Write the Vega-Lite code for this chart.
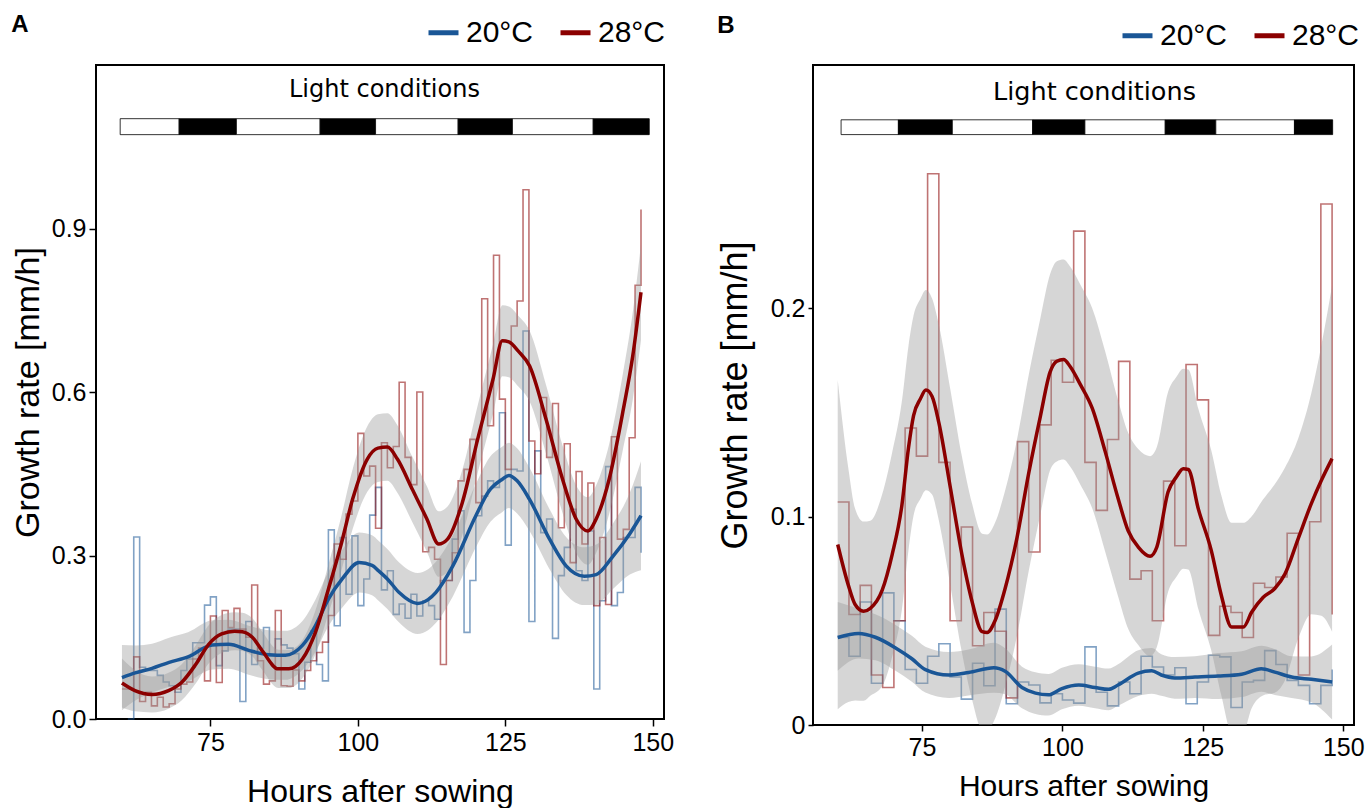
{
  "$schema": "https://vega.github.io/schema/vega-lite/v6.json",
  "background": "white",
  "padding": {"left": 10, "top": 12, "right": 0, "bottom": 0},
  "config": {
    "font": "Liberation Sans",
    "view": {"stroke": "black", "strokeWidth": 2},
    "axis": {"grid": false, "domain": false, "tickColor": "black", "tickWidth": 1.5, "labelColor": "black", "titleColor": "black", "labelFont": "Liberation Sans", "titleFont": "Liberation Sans", "titleFontWeight": "normal", "labelFontSize": 25},
    "title": {"font": "Liberation Sans", "fontWeight": "bold", "fontSize": 24, "anchor": "start", "color": "black", "offset": 0}
  },
  "datasets": {
    "a_light": [
      {"h": 59.7, "h2": 69.7, "p": "light"}, {"h": 69.7, "h2": 79.4, "p": "dark"},
      {"h": 79.4, "h2": 93.6, "p": "light"}, {"h": 93.6, "h2": 103.0, "p": "dark"},
      {"h": 103.0, "h2": 117.0, "p": "light"}, {"h": 117.0, "h2": 126.2, "p": "dark"},
      {"h": 126.2, "h2": 139.9, "p": "light"}, {"h": 139.9, "h2": 149.4, "p": "dark"}
    ],
    "b_light": [
      {"h": 60.6, "h2": 70.8, "p": "light"}, {"h": 70.8, "h2": 80.4, "p": "dark"},
      {"h": 80.4, "h2": 94.7, "p": "light"}, {"h": 94.7, "h2": 104.0, "p": "dark"},
      {"h": 104.0, "h2": 118.3, "p": "light"}, {"h": 118.3, "h2": 127.3, "p": "dark"},
      {"h": 127.3, "h2": 141.3, "p": "light"}, {"h": 141.3, "h2": 148.1, "p": "dark"}
    ],
    "label": [{"label": "Light conditions"}],
    "a_steps": [
      {"h": 61, "v": 0.0, "s": "20°C"}, {"h": 62, "v": 0.334, "s": "20°C"}, {"h": 63, "v": 0.095, "s": "20°C"}, {"h": 64, "v": 0.089, "s": "20°C"}, {"h": 65, "v": 0.089, "s": "20°C"}, {"h": 66, "v": 0.08, "s": "20°C"}, {"h": 67, "v": 0.068, "s": "20°C"}, {"h": 68, "v": 0.061, "s": "20°C"}, {"h": 69, "v": 0.049, "s": "20°C"}, {"h": 70, "v": 0.089, "s": "20°C"},
      {"h": 71, "v": 0.11, "s": "20°C"}, {"h": 72, "v": 0.14, "s": "20°C"}, {"h": 73, "v": 0.14, "s": "20°C"}, {"h": 74, "v": 0.209, "s": "20°C"}, {"h": 75, "v": 0.224, "s": "20°C"}, {"h": 76, "v": 0.098, "s": "20°C"}, {"h": 77, "v": 0.125, "s": "20°C"}, {"h": 78, "v": 0.165, "s": "20°C"}, {"h": 79, "v": 0.165, "s": "20°C"}, {"h": 80, "v": 0.032, "s": "20°C"},
      {"h": 81, "v": 0.179, "s": "20°C"}, {"h": 82, "v": 0.10, "s": "20°C"}, {"h": 83, "v": 0.13, "s": "20°C"}, {"h": 84, "v": 0.168, "s": "20°C"}, {"h": 85, "v": 0.116, "s": "20°C"}, {"h": 86, "v": 0.147, "s": "20°C"}, {"h": 87, "v": 0.136, "s": "20°C"}, {"h": 88, "v": 0.13, "s": "20°C"}, {"h": 89, "v": 0.12, "s": "20°C"}, {"h": 90, "v": 0.055, "s": "20°C"},
      {"h": 91, "v": 0.104, "s": "20°C"}, {"h": 92, "v": 0.162, "s": "20°C"}, {"h": 93, "v": 0.10, "s": "20°C"}, {"h": 94, "v": 0.07, "s": "20°C"}, {"h": 95, "v": 0.347, "s": "20°C"}, {"h": 96, "v": 0.171, "s": "20°C"}, {"h": 97, "v": 0.333, "s": "20°C"}, {"h": 98, "v": 0.229, "s": "20°C"}, {"h": 99, "v": 0.336, "s": "20°C"}, {"h": 100, "v": 0.208, "s": "20°C"},
      {"h": 101, "v": 0.257, "s": "20°C"}, {"h": 102, "v": 0.374, "s": "20°C"}, {"h": 103, "v": 0.425, "s": "20°C"}, {"h": 104, "v": 0.237, "s": "20°C"}, {"h": 105, "v": 0.272, "s": "20°C"}, {"h": 106, "v": 0.192, "s": "20°C"}, {"h": 107, "v": 0.211, "s": "20°C"}, {"h": 108, "v": 0.185, "s": "20°C"}, {"h": 109, "v": 0.229, "s": "20°C"}, {"h": 110, "v": 0.189, "s": "20°C"},
      {"h": 111, "v": 0.217, "s": "20°C"}, {"h": 112, "v": 0.208, "s": "20°C"}, {"h": 113, "v": 0.183, "s": "20°C"}, {"h": 114, "v": 0.254, "s": "20°C"}, {"h": 115, "v": 0.254, "s": "20°C"}, {"h": 116, "v": 0.33, "s": "20°C"}, {"h": 117, "v": 0.382, "s": "20°C"}, {"h": 118, "v": 0.159, "s": "20°C"}, {"h": 119, "v": 0.254, "s": "20°C"}, {"h": 120, "v": 0.373, "s": "20°C"},
      {"h": 121, "v": 0.409, "s": "20°C"}, {"h": 122, "v": 0.437, "s": "20°C"}, {"h": 123, "v": 0.425, "s": "20°C"}, {"h": 124, "v": 0.562, "s": "20°C"}, {"h": 125, "v": 0.319, "s": "20°C"}, {"h": 126, "v": 0.458, "s": "20°C"}, {"h": 127, "v": 0.455, "s": "20°C"}, {"h": 128, "v": 0.712, "s": "20°C"}, {"h": 129, "v": 0.179, "s": "20°C"}, {"h": 130, "v": 0.492, "s": "20°C"},
      {"h": 131, "v": 0.342, "s": "20°C"}, {"h": 132, "v": 0.367, "s": "20°C"}, {"h": 133, "v": 0.148, "s": "20°C"}, {"h": 134, "v": 0.263, "s": "20°C"}, {"h": 135, "v": 0.315, "s": "20°C"}, {"h": 136, "v": 0.385, "s": "20°C"}, {"h": 137, "v": 0.272, "s": "20°C"}, {"h": 138, "v": 0.254, "s": "20°C"}, {"h": 139, "v": 0.345, "s": "20°C"}, {"h": 140, "v": 0.055, "s": "20°C"},
      {"h": 141, "v": 0.217, "s": "20°C"}, {"h": 142, "v": 0.463, "s": "20°C"}, {"h": 143, "v": 0.208, "s": "20°C"}, {"h": 144, "v": 0.232, "s": "20°C"}, {"h": 145, "v": 0.333, "s": "20°C"}, {"h": 146, "v": 0.333, "s": "20°C"}, {"h": 147, "v": 0.425, "s": "20°C"}, {"h": 148, "v": 0.305, "s": "20°C"},
      {"h": 60, "v": 0.055, "s": "28°C"}, {"h": 61, "v": 0.055, "s": "28°C"}, {"h": 62, "v": 0.114, "s": "28°C"}, {"h": 63, "v": 0.032, "s": "28°C"}, {"h": 64, "v": 0.049, "s": "28°C"}, {"h": 65, "v": 0.024, "s": "28°C"}, {"h": 66, "v": 0.040, "s": "28°C"}, {"h": 67, "v": 0.022, "s": "28°C"}, {"h": 68, "v": 0.028, "s": "28°C"}, {"h": 69, "v": 0.055, "s": "28°C"},
      {"h": 70, "v": 0.064, "s": "28°C"}, {"h": 71, "v": 0.068, "s": "28°C"}, {"h": 72, "v": 0.11, "s": "28°C"}, {"h": 73, "v": 0.13, "s": "28°C"}, {"h": 74, "v": 0.07, "s": "28°C"}, {"h": 75, "v": 0.189, "s": "28°C"}, {"h": 76, "v": 0.067, "s": "28°C"}, {"h": 77, "v": 0.199, "s": "28°C"}, {"h": 78, "v": 0.168, "s": "28°C"}, {"h": 79, "v": 0.203, "s": "28°C"},
      {"h": 80, "v": 0.165, "s": "28°C"}, {"h": 81, "v": 0.15, "s": "28°C"}, {"h": 82, "v": 0.246, "s": "28°C"}, {"h": 83, "v": 0.107, "s": "28°C"}, {"h": 84, "v": 0.064, "s": "28°C"}, {"h": 85, "v": 0.07, "s": "28°C"}, {"h": 86, "v": 0.199, "s": "28°C"}, {"h": 87, "v": 0.061, "s": "28°C"}, {"h": 88, "v": 0.06, "s": "28°C"}, {"h": 89, "v": 0.09, "s": "28°C"},
      {"h": 90, "v": 0.07, "s": "28°C"}, {"h": 91, "v": 0.089, "s": "28°C"}, {"h": 92, "v": 0.107, "s": "28°C"}, {"h": 93, "v": 0.122, "s": "28°C"}, {"h": 94, "v": 0.141, "s": "28°C"}, {"h": 95, "v": 0.19, "s": "28°C"}, {"h": 96, "v": 0.321, "s": "28°C"}, {"h": 97, "v": 0.293, "s": "28°C"}, {"h": 98, "v": 0.376, "s": "28°C"}, {"h": 99, "v": 0.40, "s": "28°C"},
      {"h": 100, "v": 0.524, "s": "28°C"}, {"h": 101, "v": 0.446, "s": "28°C"}, {"h": 102, "v": 0.464, "s": "28°C"}, {"h": 103, "v": 0.35, "s": "28°C"}, {"h": 104, "v": 0.507, "s": "28°C"}, {"h": 105, "v": 0.461, "s": "28°C"}, {"h": 106, "v": 0.50, "s": "28°C"}, {"h": 107, "v": 0.618, "s": "28°C"}, {"h": 108, "v": 0.48, "s": "28°C"}, {"h": 109, "v": 0.43, "s": "28°C"},
      {"h": 110, "v": 0.60, "s": "28°C"}, {"h": 111, "v": 0.307, "s": "28°C"}, {"h": 112, "v": 0.315, "s": "28°C"}, {"h": 113, "v": 0.293, "s": "28°C"}, {"h": 114, "v": 0.10, "s": "28°C"}, {"h": 115, "v": 0.254, "s": "28°C"}, {"h": 116, "v": 0.305, "s": "28°C"}, {"h": 117, "v": 0.437, "s": "28°C"}, {"h": 118, "v": 0.458, "s": "28°C"}, {"h": 119, "v": 0.513, "s": "28°C"},
      {"h": 120, "v": 0.397, "s": "28°C"}, {"h": 121, "v": 0.771, "s": "28°C"}, {"h": 122, "v": 0.538, "s": "28°C"}, {"h": 123, "v": 0.851, "s": "28°C"}, {"h": 124, "v": 0.587, "s": "28°C"}, {"h": 125, "v": 0.458, "s": "28°C"}, {"h": 126, "v": 0.721, "s": "28°C"}, {"h": 127, "v": 0.767, "s": "28°C"}, {"h": 128, "v": 0.971, "s": "28°C"}, {"h": 129, "v": 0.51, "s": "28°C"},
      {"h": 130, "v": 0.45, "s": "28°C"}, {"h": 131, "v": 0.59, "s": "28°C"}, {"h": 132, "v": 0.48, "s": "28°C"}, {"h": 133, "v": 0.579, "s": "28°C"}, {"h": 134, "v": 0.351, "s": "28°C"}, {"h": 135, "v": 0.505, "s": "28°C"}, {"h": 136, "v": 0.287, "s": "28°C"}, {"h": 137, "v": 0.454, "s": "28°C"}, {"h": 138, "v": 0.321, "s": "28°C"}, {"h": 139, "v": 0.433, "s": "28°C"},
      {"h": 140, "v": 0.208, "s": "28°C"}, {"h": 141, "v": 0.333, "s": "28°C"}, {"h": 142, "v": 0.21, "s": "28°C"}, {"h": 143, "v": 0.518, "s": "28°C"}, {"h": 144, "v": 0.33, "s": "28°C"}, {"h": 145, "v": 0.348, "s": "28°C"}, {"h": 146, "v": 0.516, "s": "28°C"}, {"h": 147, "v": 0.796, "s": "28°C"}, {"h": 148, "v": 0.935, "s": "28°C"}
    ],
    "a_smooth": [
      {"h": 60.0, "m": 0.076, "lo": 0.016, "hi": 0.136, "s": "20°C"}, {"h": 62.4, "m": 0.085, "lo": 0.035, "hi": 0.135, "s": "20°C"}, {"h": 65.1, "m": 0.093, "lo": 0.048, "hi": 0.138, "s": "20°C"}, {"h": 68.0, "m": 0.104, "lo": 0.059, "hi": 0.149, "s": "20°C"}, {"h": 71.2, "m": 0.114, "lo": 0.069, "hi": 0.159, "s": "20°C"}, {"h": 75.3, "m": 0.136, "lo": 0.091, "hi": 0.181, "s": "20°C"}, {"h": 78.1, "m": 0.137, "lo": 0.092, "hi": 0.182, "s": "20°C"}, {"h": 81.5, "m": 0.126, "lo": 0.081, "hi": 0.171, "s": "20°C"}, {"h": 84.9, "m": 0.118, "lo": 0.073, "hi": 0.163, "s": "20°C"}, {"h": 87.7, "m": 0.117, "lo": 0.072, "hi": 0.162, "s": "20°C"}, {"h": 90.6, "m": 0.135, "lo": 0.090, "hi": 0.180, "s": "20°C"}, {"h": 92.8, "m": 0.171, "lo": 0.123, "hi": 0.219, "s": "20°C"}, {"h": 95.0, "m": 0.220, "lo": 0.170, "hi": 0.270, "s": "20°C"}, {"h": 97.4, "m": 0.258, "lo": 0.205, "hi": 0.311, "s": "20°C"}, {"h": 100.2, "m": 0.287, "lo": 0.232, "hi": 0.342, "s": "20°C"}, {"h": 102.4, "m": 0.282, "lo": 0.227, "hi": 0.337, "s": "20°C"}, {"h": 103.5, "m": 0.272, "lo": 0.217, "hi": 0.327, "s": "20°C"}, {"h": 105.0, "m": 0.257, "lo": 0.202, "hi": 0.312, "s": "20°C"}, {"h": 107.0, "m": 0.232, "lo": 0.177, "hi": 0.287, "s": "20°C"}, {"h": 110.1, "m": 0.212, "lo": 0.156, "hi": 0.268, "s": "20°C"}, {"h": 111.9, "m": 0.219, "lo": 0.163, "hi": 0.275, "s": "20°C"}, {"h": 113.2, "m": 0.232, "lo": 0.176, "hi": 0.288, "s": "20°C"}, {"h": 116.1, "m": 0.281, "lo": 0.225, "hi": 0.337, "s": "20°C"}, {"h": 120.0, "m": 0.373, "lo": 0.315, "hi": 0.431, "s": "20°C"}, {"h": 122.2, "m": 0.418, "lo": 0.358, "hi": 0.478, "s": "20°C"}, {"h": 124.5, "m": 0.440, "lo": 0.380, "hi": 0.500, "s": "20°C"}, {"h": 125.6, "m": 0.447, "lo": 0.387, "hi": 0.507, "s": "20°C"}, {"h": 127.0, "m": 0.437, "lo": 0.377, "hi": 0.497, "s": "20°C"}, {"h": 129.1, "m": 0.403, "lo": 0.345, "hi": 0.461, "s": "20°C"}, {"h": 132.5, "m": 0.330, "lo": 0.275, "hi": 0.385, "s": "20°C"}, {"h": 135.3, "m": 0.281, "lo": 0.228, "hi": 0.334, "s": "20°C"}, {"h": 138.4, "m": 0.262, "lo": 0.209, "hi": 0.315, "s": "20°C"}, {"h": 140.4, "m": 0.265, "lo": 0.210, "hi": 0.320, "s": "20°C"}, {"h": 143.2, "m": 0.298, "lo": 0.238, "hi": 0.358, "s": "20°C"}, {"h": 146.1, "m": 0.340, "lo": 0.265, "hi": 0.415, "s": "20°C"}, {"h": 148.0, "m": 0.373, "lo": 0.273, "hi": 0.473, "s": "20°C"},
      {"h": 60.0, "m": 0.066, "lo": 0.021, "hi": 0.111, "s": "28°C"}, {"h": 62.2, "m": 0.052, "lo": 0.014, "hi": 0.090, "s": "28°C"}, {"h": 65.1, "m": 0.045, "lo": 0.012, "hi": 0.078, "s": "28°C"}, {"h": 67.9, "m": 0.052, "lo": 0.019, "hi": 0.085, "s": "28°C"}, {"h": 70.1, "m": 0.067, "lo": 0.034, "hi": 0.100, "s": "28°C"}, {"h": 72.5, "m": 0.100, "lo": 0.065, "hi": 0.135, "s": "28°C"}, {"h": 74.7, "m": 0.137, "lo": 0.102, "hi": 0.172, "s": "28°C"}, {"h": 76.9, "m": 0.156, "lo": 0.121, "hi": 0.191, "s": "28°C"}, {"h": 79.1, "m": 0.161, "lo": 0.126, "hi": 0.196, "s": "28°C"}, {"h": 80.4, "m": 0.160, "lo": 0.125, "hi": 0.195, "s": "28°C"}, {"h": 82.1, "m": 0.150, "lo": 0.115, "hi": 0.185, "s": "28°C"}, {"h": 83.8, "m": 0.125, "lo": 0.090, "hi": 0.160, "s": "28°C"}, {"h": 86.5, "m": 0.092, "lo": 0.057, "hi": 0.127, "s": "28°C"}, {"h": 88.3, "m": 0.092, "lo": 0.057, "hi": 0.127, "s": "28°C"}, {"h": 90.6, "m": 0.110, "lo": 0.075, "hi": 0.145, "s": "28°C"}, {"h": 92.8, "m": 0.159, "lo": 0.119, "hi": 0.199, "s": "28°C"}, {"h": 95.0, "m": 0.238, "lo": 0.193, "hi": 0.283, "s": "28°C"}, {"h": 97.1, "m": 0.318, "lo": 0.268, "hi": 0.368, "s": "28°C"}, {"h": 99.1, "m": 0.403, "lo": 0.348, "hi": 0.458, "s": "28°C"}, {"h": 101.6, "m": 0.477, "lo": 0.417, "hi": 0.537, "s": "28°C"}, {"h": 103.4, "m": 0.497, "lo": 0.435, "hi": 0.559, "s": "28°C"}, {"h": 105.0, "m": 0.499, "lo": 0.437, "hi": 0.561, "s": "28°C"}, {"h": 106.7, "m": 0.477, "lo": 0.415, "hi": 0.539, "s": "28°C"}, {"h": 109.2, "m": 0.422, "lo": 0.362, "hi": 0.482, "s": "28°C"}, {"h": 111.7, "m": 0.367, "lo": 0.307, "hi": 0.427, "s": "28°C"}, {"h": 113.7, "m": 0.321, "lo": 0.261, "hi": 0.381, "s": "28°C"}, {"h": 115.2, "m": 0.330, "lo": 0.270, "hi": 0.390, "s": "28°C"}, {"h": 117.7, "m": 0.397, "lo": 0.337, "hi": 0.457, "s": "28°C"}, {"h": 120.3, "m": 0.513, "lo": 0.451, "hi": 0.575, "s": "28°C"}, {"h": 122.9, "m": 0.623, "lo": 0.559, "hi": 0.687, "s": "28°C"}, {"h": 124.5, "m": 0.694, "lo": 0.629, "hi": 0.759, "s": "28°C"}, {"h": 125.6, "m": 0.692, "lo": 0.627, "hi": 0.757, "s": "28°C"}, {"h": 127.2, "m": 0.675, "lo": 0.610, "hi": 0.740, "s": "28°C"}, {"h": 129.1, "m": 0.648, "lo": 0.583, "hi": 0.713, "s": "28°C"}, {"h": 131.9, "m": 0.550, "lo": 0.487, "hi": 0.613, "s": "28°C"}, {"h": 134.7, "m": 0.440, "lo": 0.378, "hi": 0.502, "s": "28°C"}, {"h": 137.0, "m": 0.367, "lo": 0.305, "hi": 0.429, "s": "28°C"}, {"h": 139.0, "m": 0.345, "lo": 0.283, "hi": 0.407, "s": "28°C"}, {"h": 140.4, "m": 0.367, "lo": 0.305, "hi": 0.429, "s": "28°C"}, {"h": 142.6, "m": 0.440, "lo": 0.376, "hi": 0.504, "s": "28°C"}, {"h": 145.0, "m": 0.568, "lo": 0.498, "hi": 0.638, "s": "28°C"}, {"h": 146.6, "m": 0.666, "lo": 0.586, "hi": 0.746, "s": "28°C"}, {"h": 148.0, "m": 0.783, "lo": 0.695, "hi": 0.871, "s": "28°C"}
    ],
    "b_steps": [
      {"h": 60, "v": 0.042, "s": "20°C"}, {"h": 62, "v": 0.033, "s": "20°C"}, {"h": 64, "v": 0.059, "s": "20°C"}, {"h": 66, "v": 0.020, "s": "20°C"}, {"h": 68, "v": 0.0634, "s": "20°C"}, {"h": 70, "v": 0.050, "s": "20°C"}, {"h": 72, "v": 0.0266, "s": "20°C"}, {"h": 74, "v": 0.020, "s": "20°C"}, {"h": 76, "v": 0.033, "s": "20°C"}, {"h": 78, "v": 0.039, "s": "20°C"},
      {"h": 80, "v": 0.023, "s": "20°C"}, {"h": 82, "v": 0.0124, "s": "20°C"}, {"h": 84, "v": 0.0296, "s": "20°C"}, {"h": 86, "v": 0.0188, "s": "20°C"}, {"h": 88, "v": 0.0556, "s": "20°C"}, {"h": 90, "v": 0.0102, "s": "20°C"}, {"h": 92, "v": 0.0206, "s": "20°C"}, {"h": 94, "v": 0.0192, "s": "20°C"}, {"h": 96, "v": 0.0106, "s": "20°C"}, {"h": 98, "v": 0.015, "s": "20°C"},
      {"h": 100, "v": 0.012, "s": "20°C"}, {"h": 102, "v": 0.0105, "s": "20°C"}, {"h": 104, "v": 0.0375, "s": "20°C"}, {"h": 106, "v": 0.0157, "s": "20°C"}, {"h": 108, "v": 0.0092, "s": "20°C"}, {"h": 110, "v": 0.0206, "s": "20°C"}, {"h": 112, "v": 0.015, "s": "20°C"}, {"h": 114, "v": 0.033, "s": "20°C"}, {"h": 116, "v": 0.0278, "s": "20°C"}, {"h": 118, "v": 0.024, "s": "20°C"},
      {"h": 120, "v": 0.0275, "s": "20°C"}, {"h": 122, "v": 0.0102, "s": "20°C"}, {"h": 124, "v": 0.0206, "s": "20°C"}, {"h": 126, "v": 0.0335, "s": "20°C"}, {"h": 128, "v": 0.0327, "s": "20°C"}, {"h": 130, "v": 0.0084, "s": "20°C"}, {"h": 132, "v": 0.0206, "s": "20°C"}, {"h": 134, "v": 0.0214, "s": "20°C"}, {"h": 136, "v": 0.0357, "s": "20°C"}, {"h": 138, "v": 0.029, "s": "20°C"},
      {"h": 140, "v": 0.0214, "s": "20°C"}, {"h": 142, "v": 0.019, "s": "20°C"}, {"h": 144, "v": 0.0102, "s": "20°C"}, {"h": 146, "v": 0.019, "s": "20°C"}, {"h": 148, "v": 0.0266, "s": "20°C"},
      {"h": 60, "v": 0.107, "s": "28°C"}, {"h": 62, "v": 0.053, "s": "28°C"}, {"h": 64, "v": 0.067, "s": "28°C"}, {"h": 66, "v": 0.024, "s": "28°C"}, {"h": 68, "v": 0.018, "s": "28°C"}, {"h": 70, "v": 0.050, "s": "28°C"}, {"h": 72, "v": 0.1425, "s": "28°C"}, {"h": 74, "v": 0.129, "s": "28°C"}, {"h": 76, "v": 0.2645, "s": "28°C"}, {"h": 78, "v": 0.126, "s": "28°C"},
      {"h": 80, "v": 0.050, "s": "28°C"}, {"h": 82, "v": 0.095, "s": "28°C"}, {"h": 84, "v": 0.038, "s": "28°C"}, {"h": 86, "v": 0.054, "s": "28°C"}, {"h": 88, "v": 0.045, "s": "28°C"}, {"h": 90, "v": 0.013, "s": "28°C"}, {"h": 92, "v": 0.136, "s": "28°C"}, {"h": 94, "v": 0.083, "s": "28°C"}, {"h": 96, "v": 0.144, "s": "28°C"}, {"h": 98, "v": 0.175, "s": "28°C"},
      {"h": 100, "v": 0.1645, "s": "28°C"}, {"h": 102, "v": 0.237, "s": "28°C"}, {"h": 104, "v": 0.126, "s": "28°C"}, {"h": 106, "v": 0.103, "s": "28°C"}, {"h": 108, "v": 0.137, "s": "28°C"}, {"h": 110, "v": 0.1745, "s": "28°C"}, {"h": 112, "v": 0.070, "s": "28°C"}, {"h": 114, "v": 0.074, "s": "28°C"}, {"h": 116, "v": 0.050, "s": "28°C"}, {"h": 118, "v": 0.117, "s": "28°C"},
      {"h": 120, "v": 0.086, "s": "28°C"}, {"h": 122, "v": 0.173, "s": "28°C"}, {"h": 124, "v": 0.156, "s": "28°C"}, {"h": 126, "v": 0.043, "s": "28°C"}, {"h": 128, "v": 0.057, "s": "28°C"}, {"h": 130, "v": 0.054, "s": "28°C"}, {"h": 132, "v": 0.042, "s": "28°C"}, {"h": 134, "v": 0.068, "s": "28°C"}, {"h": 136, "v": 0.066, "s": "28°C"}, {"h": 138, "v": 0.071, "s": "28°C"},
      {"h": 140, "v": 0.092, "s": "28°C"}, {"h": 142, "v": 0.024, "s": "28°C"}, {"h": 144, "v": 0.0975, "s": "28°C"}, {"h": 146, "v": 0.250, "s": "28°C"}, {"h": 148, "v": 0.053, "s": "28°C"}
    ],
    "b_smooth": [
      {"h": 60.0, "m": 0.042, "lo": 0.026, "hi": 0.059, "s": "20°C"}, {"h": 63.7, "m": 0.0439, "lo": 0.0319, "hi": 0.0559, "s": "20°C"}, {"h": 66.7, "m": 0.0421, "lo": 0.0311, "hi": 0.0531, "s": "20°C"}, {"h": 70.3, "m": 0.037, "lo": 0.026, "hi": 0.048, "s": "20°C"}, {"h": 73.2, "m": 0.0318, "lo": 0.0208, "hi": 0.0428, "s": "20°C"}, {"h": 75.6, "m": 0.0266, "lo": 0.0156, "hi": 0.0376, "s": "20°C"}, {"h": 79.8, "m": 0.024, "lo": 0.013, "hi": 0.035, "s": "20°C"}, {"h": 83.3, "m": 0.0252, "lo": 0.0142, "hi": 0.0362, "s": "20°C"}, {"h": 87.8, "m": 0.0275, "lo": 0.0155, "hi": 0.0395, "s": "20°C"}, {"h": 89.8, "m": 0.0258, "lo": 0.0148, "hi": 0.0368, "s": "20°C"}, {"h": 92.8, "m": 0.018, "lo": 0.008, "hi": 0.028, "s": "20°C"}, {"h": 95.2, "m": 0.0153, "lo": 0.0053, "hi": 0.0253, "s": "20°C"}, {"h": 97.5, "m": 0.0145, "lo": 0.0045, "hi": 0.0245, "s": "20°C"}, {"h": 99.9, "m": 0.0175, "lo": 0.0075, "hi": 0.0275, "s": "20°C"}, {"h": 102.9, "m": 0.0192, "lo": 0.0092, "hi": 0.0292, "s": "20°C"}, {"h": 105.8, "m": 0.018, "lo": 0.008, "hi": 0.028, "s": "20°C"}, {"h": 108.2, "m": 0.0171, "lo": 0.0071, "hi": 0.0271, "s": "20°C"}, {"h": 109.9, "m": 0.0192, "lo": 0.0092, "hi": 0.0292, "s": "20°C"}, {"h": 113.5, "m": 0.0249, "lo": 0.0139, "hi": 0.0359, "s": "20°C"}, {"h": 115.9, "m": 0.026, "lo": 0.015, "hi": 0.037, "s": "20°C"}, {"h": 117.6, "m": 0.024, "lo": 0.014, "hi": 0.034, "s": "20°C"}, {"h": 120.0, "m": 0.0226, "lo": 0.0126, "hi": 0.0326, "s": "20°C"}, {"h": 123.6, "m": 0.023, "lo": 0.013, "hi": 0.033, "s": "20°C"}, {"h": 127.7, "m": 0.0235, "lo": 0.0125, "hi": 0.0345, "s": "20°C"}, {"h": 131.9, "m": 0.0244, "lo": 0.0134, "hi": 0.0354, "s": "20°C"}, {"h": 135.4, "m": 0.027, "lo": 0.016, "hi": 0.038, "s": "20°C"}, {"h": 137.8, "m": 0.0254, "lo": 0.0144, "hi": 0.0364, "s": "20°C"}, {"h": 140.8, "m": 0.023, "lo": 0.013, "hi": 0.033, "s": "20°C"}, {"h": 144.3, "m": 0.0219, "lo": 0.0109, "hi": 0.0329, "s": "20°C"}, {"h": 148.0, "m": 0.0206, "lo": 0.0026, "hi": 0.0386, "s": "20°C"},
      {"h": 60.0, "m": 0.0866, "lo": 0.0076, "hi": 0.1656, "s": "28°C"}, {"h": 61.9, "m": 0.067, "lo": 0.011, "hi": 0.123, "s": "28°C"}, {"h": 63.1, "m": 0.0578, "lo": 0.0118, "hi": 0.1038, "s": "28°C"}, {"h": 64.6, "m": 0.0546, "lo": 0.0116, "hi": 0.0976, "s": "28°C"}, {"h": 65.8, "m": 0.056, "lo": 0.014, "hi": 0.098, "s": "28°C"}, {"h": 67.9, "m": 0.0646, "lo": 0.0186, "hi": 0.1106, "s": "28°C"}, {"h": 69.7, "m": 0.0819, "lo": 0.0329, "hi": 0.1309, "s": "28°C"}, {"h": 71.4, "m": 0.105, "lo": 0.055, "hi": 0.155, "s": "28°C"}, {"h": 72.6, "m": 0.133, "lo": 0.084, "hi": 0.182, "s": "28°C"}, {"h": 73.5, "m": 0.1485, "lo": 0.1005, "hi": 0.1965, "s": "28°C"}, {"h": 74.7, "m": 0.1564, "lo": 0.1084, "hi": 0.2044, "s": "28°C"}, {"h": 75.7, "m": 0.1607, "lo": 0.1127, "hi": 0.2087, "s": "28°C"}, {"h": 76.8, "m": 0.1576, "lo": 0.1106, "hi": 0.2046, "s": "28°C"}, {"h": 78.0, "m": 0.1451, "lo": 0.0981, "hi": 0.1921, "s": "28°C"}, {"h": 80.1, "m": 0.1131, "lo": 0.0661, "hi": 0.1601, "s": "28°C"}, {"h": 82.1, "m": 0.0819, "lo": 0.0349, "hi": 0.1289, "s": "28°C"}, {"h": 83.9, "m": 0.0594, "lo": 0.0124, "hi": 0.1064, "s": "28°C"}, {"h": 85.7, "m": 0.0448, "lo": -0.0022, "hi": 0.0918, "s": "28°C"}, {"h": 86.6, "m": 0.0444, "lo": -0.0026, "hi": 0.0914, "s": "28°C"}, {"h": 88.0, "m": 0.050, "lo": 0.003, "hi": 0.097, "s": "28°C"}, {"h": 89.8, "m": 0.0655, "lo": 0.0185, "hi": 0.1125, "s": "28°C"}, {"h": 91.9, "m": 0.0897, "lo": 0.0427, "hi": 0.1367, "s": "28°C"}, {"h": 94.0, "m": 0.1209, "lo": 0.0739, "hi": 0.1679, "s": "28°C"}, {"h": 96.1, "m": 0.1485, "lo": 0.1015, "hi": 0.1955, "s": "28°C"}, {"h": 97.8, "m": 0.1693, "lo": 0.1223, "hi": 0.2163, "s": "28°C"}, {"h": 99.0, "m": 0.1745, "lo": 0.1265, "hi": 0.2225, "s": "28°C"}, {"h": 100.2, "m": 0.1754, "lo": 0.1274, "hi": 0.2234, "s": "28°C"}, {"h": 101.4, "m": 0.1719, "lo": 0.1239, "hi": 0.2199, "s": "28°C"}, {"h": 103.2, "m": 0.1633, "lo": 0.1153, "hi": 0.2113, "s": "28°C"}, {"h": 105.3, "m": 0.152, "lo": 0.104, "hi": 0.200, "s": "28°C"}, {"h": 107.6, "m": 0.1313, "lo": 0.0833, "hi": 0.1793, "s": "28°C"}, {"h": 109.9, "m": 0.1088, "lo": 0.0618, "hi": 0.1558, "s": "28°C"}, {"h": 111.7, "m": 0.0932, "lo": 0.0462, "hi": 0.1402, "s": "28°C"}, {"h": 113.5, "m": 0.0854, "lo": 0.0384, "hi": 0.1324, "s": "28°C"}, {"h": 115.6, "m": 0.081, "lo": 0.033, "hi": 0.129, "s": "28°C"}, {"h": 116.8, "m": 0.0854, "lo": 0.0374, "hi": 0.1334, "s": "28°C"}, {"h": 118.8, "m": 0.1118, "lo": 0.0638, "hi": 0.1598, "s": "28°C"}, {"h": 120.3, "m": 0.1191, "lo": 0.0711, "hi": 0.1671, "s": "28°C"}, {"h": 121.5, "m": 0.123, "lo": 0.075, "hi": 0.171, "s": "28°C"}, {"h": 122.4, "m": 0.1226, "lo": 0.0746, "hi": 0.1706, "s": "28°C"}, {"h": 124.2, "m": 0.1036, "lo": 0.0556, "hi": 0.1516, "s": "28°C"}, {"h": 126.5, "m": 0.0837, "lo": 0.0357, "hi": 0.1317, "s": "28°C"}, {"h": 128.3, "m": 0.062, "lo": 0.014, "hi": 0.110, "s": "28°C"}, {"h": 130.1, "m": 0.047, "lo": -0.003, "hi": 0.097, "s": "28°C"}, {"h": 132.2, "m": 0.047, "lo": -0.003, "hi": 0.097, "s": "28°C"}, {"h": 133.7, "m": 0.0542, "lo": 0.0082, "hi": 0.1002, "s": "28°C"}, {"h": 135.7, "m": 0.0612, "lo": 0.0142, "hi": 0.1082, "s": "28°C"}, {"h": 137.8, "m": 0.0655, "lo": 0.0155, "hi": 0.1155, "s": "28°C"}, {"h": 139.6, "m": 0.0724, "lo": 0.0214, "hi": 0.1234, "s": "28°C"}, {"h": 142.0, "m": 0.0897, "lo": 0.0417, "hi": 0.1377, "s": "28°C"}, {"h": 144.3, "m": 0.1062, "lo": 0.0532, "hi": 0.1592, "s": "28°C"}, {"h": 146.1, "m": 0.1174, "lo": 0.0524, "hi": 0.1824, "s": "28°C"}, {"h": 148.0, "m": 0.1278, "lo": 0.0448, "hi": 0.2108, "s": "28°C"}
    ]
  },
  "spacing": 41,
  "resolve": {"scale": {"color": "independent"}, "legend": {"color": "independent"}},
  "hconcat": [
    {
      "width": 568,
      "height": 654,
      "title": {"text": "A", "dy": 26},
      "layer": [
        {
          "data": {"name": "a_steps"},
          "mark": {"type": "line", "interpolate": "step-after", "strokeWidth": 1.6, "opacity": 0.55},
          "encoding": {
            "x": {"field": "h", "type": "quantitative", "scale": {"domain": [55.6, 151.9], "nice": false, "zero": false}, "title": "Hours after sowing", "axis": {"values": [75, 100, 125, 150], "titleFontSize": 32, "tickSize": 7, "labelPadding": 4, "titlePadding": 21}},
            "y": {"field": "v", "type": "quantitative", "scale": {"domain": [0, 1.2], "nice": false}, "title": "Growth rate [mm/h]", "axis": {"values": [0, 0.3, 0.6, 0.9], "format": ".1f", "titleFontSize": 34, "tickSize": 7, "labelPadding": 3, "titlePadding": 6}},
            "color": {"field": "s", "type": "nominal", "scale": {"domain": ["20°C", "28°C"], "range": ["#1a5696", "#8b0000"]}}
          }
        },
        {
          "data": {"name": "a_light"},
          "mark": {"type": "rect", "stroke": "black", "strokeWidth": 0.8},
          "encoding": {
            "x": {"field": "h", "type": "quantitative", "title": "Hours after sowing"},
            "x2": {"field": "h2"},
            "y": {"datum": 1.0722, "type": "quantitative"},
            "y2": {"datum": 1.1015},
            "fill": {"field": "p", "type": "nominal", "scale": {"domain": ["light", "dark"], "range": ["white", "black"]}, "legend": null}
          }
        },
        {
          "data": {"name": "label"},
          "mark": {"type": "text", "font": "DejaVu Sans", "fontSize": 24, "color": "black", "baseline": "middle", "align": "center"},
          "encoding": {
            "x": {"datum": 104.5, "type": "quantitative"},
            "y": {"datum": 1.155, "type": "quantitative"},
            "text": {"field": "label"}
          }
        },
        {
          "data": {"name": "a_smooth"},
          "mark": {"type": "area", "interpolate": "monotone", "color": "#999999", "opacity": 0.4, "clip": true},
          "encoding": {
            "x": {"field": "h", "type": "quantitative", "title": "Hours after sowing"},
            "y": {"field": "lo", "type": "quantitative", "title": "Growth rate [mm/h]"},
            "y2": {"field": "hi"},
            "detail": {"field": "s"}
          }
        },
        {
          "data": {"name": "a_smooth"},
          "mark": {"type": "line", "interpolate": "monotone", "strokeWidth": 3.5},
          "encoding": {
            "x": {"field": "h", "type": "quantitative", "title": "Hours after sowing"},
            "y": {"field": "m", "type": "quantitative", "title": "Growth rate [mm/h]"},
            "color": {"field": "s", "type": "nominal", "legend": {"title": null, "orient": "none", "legendX": 330, "legendY": -50, "direction": "horizontal", "symbolType": "stroke", "symbolStrokeWidth": 5, "symbolSize": 900, "symbolOpacity": 1, "labelFontSize": 30, "labelFont": "Liberation Sans", "labelColor": "black", "columnPadding": 16, "labelOffset": 5, "padding": 0, "symbolOffset": 0, "encode": {"symbols": {"update": {"opacity": {"value": 1}, "strokeOpacity": {"value": 1}}}}}}
          }
        }
      ]
    },
    {
      "width": 541,
      "height": 660,
      "title": {"text": "B", "dy": 24},
      "layer": [
        {
          "data": {"name": "b_steps"},
          "mark": {"type": "line", "interpolate": "step-after", "strokeWidth": 1.6, "opacity": 0.55},
          "encoding": {
            "x": {"field": "h", "type": "quantitative", "scale": {"domain": [55.6, 151.9], "nice": false, "zero": false}, "title": "Hours after sowing", "axis": {"values": [75, 100, 125, 150], "titleFontSize": 30, "tickSize": 6, "labelPadding": 4, "titlePadding": 11}},
            "y": {"field": "v", "type": "quantitative", "scale": {"domain": [0, 0.3167], "nice": false}, "title": "Growth rate [mm/h]", "axis": {"values": [0, 0.1, 0.2], "labelExpr": "datum.value == 0 ? '0' : format(datum.value, '.1f')", "titleFontSize": 36, "tickSize": 5, "labelPadding": 3, "titlePadding": 16}},
            "color": {"field": "s", "type": "nominal", "scale": {"domain": ["20°C", "28°C"], "range": ["#1a5696", "#8b0000"]}}
          }
        },
        {
          "data": {"name": "b_light"},
          "mark": {"type": "rect", "stroke": "black", "strokeWidth": 0.8},
          "encoding": {
            "x": {"field": "h", "type": "quantitative", "title": "Hours after sowing"},
            "x2": {"field": "h2"},
            "y": {"datum": 0.2833, "type": "quantitative"},
            "y2": {"datum": 0.2904},
            "fill": {"field": "p", "type": "nominal", "scale": {"domain": ["light", "dark"], "range": ["white", "black"]}, "legend": null}
          }
        },
        {
          "data": {"name": "label"},
          "mark": {"type": "text", "font": "DejaVu Sans", "fontSize": 25.5, "color": "black", "baseline": "middle", "align": "center"},
          "encoding": {
            "x": {"datum": 105.7, "type": "quantitative"},
            "y": {"datum": 0.3037, "type": "quantitative"},
            "text": {"field": "label"}
          }
        },
        {
          "data": {"name": "b_smooth"},
          "mark": {"type": "area", "interpolate": "monotone", "color": "#999999", "opacity": 0.4, "clip": true},
          "encoding": {
            "x": {"field": "h", "type": "quantitative", "title": "Hours after sowing"},
            "y": {"field": "lo", "type": "quantitative", "title": "Growth rate [mm/h]"},
            "y2": {"field": "hi"},
            "detail": {"field": "s"}
          }
        },
        {
          "data": {"name": "b_smooth"},
          "mark": {"type": "line", "interpolate": "monotone", "strokeWidth": 3.5},
          "encoding": {
            "x": {"field": "h", "type": "quantitative", "title": "Hours after sowing"},
            "y": {"field": "m", "type": "quantitative", "title": "Growth rate [mm/h]"},
            "color": {"field": "s", "type": "nominal", "legend": {"title": null, "orient": "none", "legendX": 307, "legendY": -47, "direction": "horizontal", "symbolType": "stroke", "symbolStrokeWidth": 5, "symbolSize": 900, "symbolOpacity": 1, "labelFontSize": 30, "labelFont": "Liberation Sans", "labelColor": "black", "columnPadding": 16, "labelOffset": 5, "padding": 0, "symbolOffset": 0, "encode": {"symbols": {"update": {"opacity": {"value": 1}, "strokeOpacity": {"value": 1}}}}}}
          }
        }
      ]
    }
  ]
}
